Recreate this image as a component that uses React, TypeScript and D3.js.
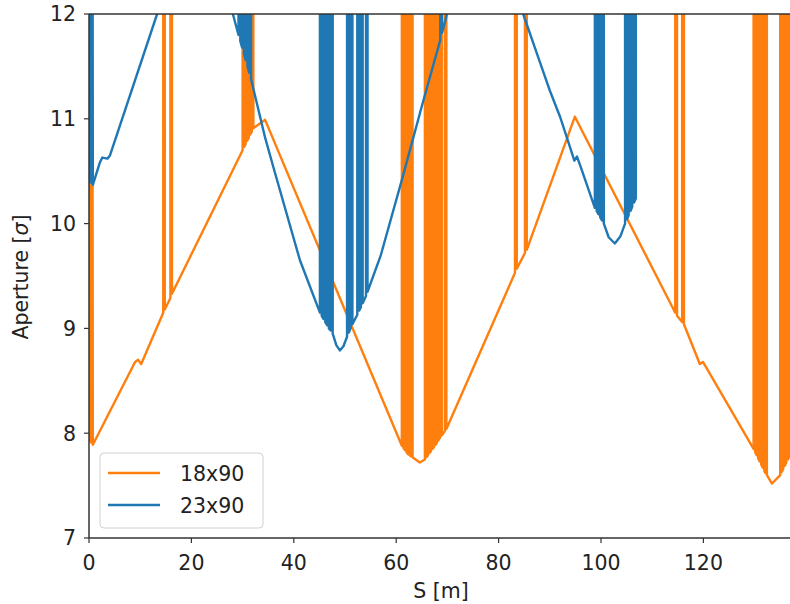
import React from 'react';
import * as d3 from 'd3';

type P = [number, number];

const xTicks = [0, 20, 40, 60, 80, 100, 120];
const yTicks = [7, 8, 9, 10, 11, 12];
const seriesNames = ['18x90', '23x90'];
const seriesColors = ['#ff7f0e', '#1f77b4'];

// 18x90 aperture (sigma) vs S (m); values of 15 are off-chart (above 12)
const orange18x90: P[] = [
  [0, 15], [0.15, 7.93], [0.3, 15], [0.45, 7.91], [0.6, 15], [0.75, 7.89],
  [9.0, 8.68], [9.6, 8.7], [10.2, 8.66], [14.5, 9.15],
  [14.5, 15], [14.8, 15], [14.8, 9.18], [15.9, 9.29], [15.9, 15], [16.2, 15], [16.2, 9.33],
  [30.0, 10.7], [30.0, 15], [30.3, 15], [30.3, 10.73], [30.6, 10.76], [30.6, 15], [30.9, 15], [30.9, 10.79],
  [31.2, 10.82], [31.2, 15], [31.5, 15], [31.5, 10.85], [31.8, 10.88], [31.8, 15], [32.1, 15], [32.1, 10.91],
  [34.4, 10.99],
  [61.1, 7.88], [61.1, 15], [61.4, 15], [61.4, 7.86], [61.7, 7.84], [61.7, 15], [62.0, 15], [62.0, 7.82],
  [62.3, 7.8], [62.3, 15], [62.6, 15], [62.6, 7.79], [62.9, 7.78], [62.9, 15], [63.2, 15], [63.2, 7.77],
  [64.6, 7.72],
  [65.6, 7.75], [65.6, 15], [65.9, 15], [65.9, 7.77], [66.2, 7.79], [66.2, 15], [66.5, 15], [66.5, 7.81],
  [66.8, 7.83], [66.8, 15], [67.1, 15], [67.1, 7.85], [67.4, 7.87], [67.4, 15], [67.7, 15], [67.7, 7.89],
  [67.95, 7.91], [67.95, 15], [68.2, 15], [68.2, 7.93],
  [68.6, 7.96], [68.6, 15], [68.9, 15], [68.9, 7.98], [69.5, 8.02], [69.5, 15], [69.8, 15], [69.8, 8.04],
  [83.2, 9.53], [83.2, 15], [83.55, 15], [83.55, 9.57], [85.15, 9.72], [85.15, 15], [85.5, 15], [85.5, 9.75],
  [94.9, 11.02],
  [114.5, 9.15], [114.5, 15], [114.85, 15], [114.85, 9.12], [115.85, 9.06], [115.85, 15], [116.2, 15], [116.2, 9.04],
  [119.3, 8.66], [119.9, 8.68], [120.4, 8.64],
  [129.8, 7.85], [129.8, 15], [130.1, 15], [130.1, 7.82], [130.4, 7.79], [130.4, 15], [130.7, 15], [130.7, 7.76],
  [131.0, 7.73], [131.0, 15], [131.3, 15], [131.3, 7.7], [131.6, 7.67], [131.6, 15], [131.9, 15], [131.9, 7.64],
  [132.1, 7.62], [132.1, 15], [132.4, 15], [132.4, 7.6],
  [133.4, 7.52],
  [135.0, 7.6], [135.0, 15], [135.3, 15], [135.3, 7.63], [135.6, 7.66], [135.6, 15], [135.9, 15], [135.9, 7.69],
  [136.2, 7.72], [136.2, 15], [136.5, 15], [136.5, 7.75], [136.8, 7.78], [136.8, 15], [137.1, 15], [137.1, 7.81],
  [137.4, 7.84], [137.4, 15], [137.7, 15], [137.7, 7.87],
];

// 23x90 aperture (sigma) vs S (m)
const blue23x90: P[] = [
  [0, 15], [0.15, 10.4], [0.3, 15], [0.45, 10.39], [0.6, 15], [0.75, 10.37],
  [2.1, 10.58], [2.6, 10.63], [3.6, 10.62], [4.1, 10.65], [13.3, 12.0], [21, 13.2], [28.1, 12.0],
  [29.2, 11.8], [29.2, 15], [29.55, 15], [29.55, 11.74], [29.9, 11.68], [29.9, 15], [30.25, 15], [30.25, 11.62],
  [30.6, 11.56], [30.6, 15], [30.95, 15], [30.95, 11.5], [31.3, 11.44], [31.3, 15], [31.65, 15], [31.65, 11.38],
  [34.4, 10.82], [36, 10.54], [41.2, 9.65],
  [45.1, 9.15], [45.1, 15], [45.45, 15], [45.45, 9.12], [45.8, 9.09], [45.8, 15], [46.15, 15], [46.15, 9.06],
  [46.5, 9.03], [46.5, 15], [46.85, 15], [46.85, 9.0], [47.2, 8.98], [47.2, 15], [47.6, 15], [47.6, 8.95],
  [48.3, 8.84], [49.0, 8.79], [49.7, 8.83],
  [50.4, 8.92], [50.4, 15], [50.75, 15], [50.75, 8.96], [51.1, 9.0], [51.1, 15], [51.45, 15], [51.45, 9.04],
  [52.4, 9.13], [52.4, 15], [52.75, 15], [52.75, 9.17], [53.1, 9.2], [53.1, 15], [53.45, 15], [53.45, 9.24],
  [54.1, 9.31], [54.1, 15], [54.4, 15], [54.4, 9.35],
  [57, 9.7], [61.3, 10.45], [65, 11.12], [68.6, 11.75], [68.6, 15], [68.95, 15], [68.95, 11.82],
  [69.5, 11.92], [70.0, 12.02], [77, 13.2], [84.8, 12.0],
  [88, 11.55], [90, 11.27], [92, 11.02], [94.8, 10.6], [95.3, 10.64], [95.9, 10.56],
  [98.8, 10.15], [98.8, 15], [99.15, 15], [99.15, 10.12], [99.5, 10.09], [99.5, 15], [99.85, 15], [99.85, 10.06],
  [100.2, 10.03], [100.2, 15], [100.55, 15], [100.55, 10.0],
  [101.5, 9.87], [102.7, 9.81], [103.8, 9.88],
  [104.7, 10.0], [104.7, 15], [105.05, 15], [105.05, 10.04], [105.4, 10.08], [105.4, 15], [105.75, 15], [105.75, 10.12],
  [106.1, 10.16], [106.1, 15], [106.45, 15], [106.45, 10.2], [106.8, 10.24], [106.8, 15],
];

const seriesData = [orange18x90, blue23x90];

export default function App() {
  const W = 790, H = 604;
  const left = 89, right = 793, top = 14, bottom = 538;
  const x = d3.scaleLinear().domain([0, 137.5]).range([left, right]);
  const y = d3.scaleLinear().domain([7, 12]).range([bottom, top]);
  const line = d3.line<P>().x(d => x(d[0])).y(d => y(d[1]));
  const font = "'DejaVu Sans', sans-serif";
  const fs = 20.5;
  const axisColor = '#333';

  return (
    <svg width={W} height={H} style={{ position: 'fixed', left: 0, top: 0, background: '#fff' }}
      fontFamily={font}>
      <defs>
        <clipPath id="plotclip">
          <rect x={left} y={top} width={right - left} height={bottom - top} />
        </clipPath>
      </defs>
      <rect x={0} y={0} width={W} height={H} fill="#fff" />
      <g clipPath="url(#plotclip)">
        {seriesData.map((d, i) => (
          <path key={i} d={line(d) || ''} fill="none" stroke={seriesColors[i]}
            strokeWidth={2.4} strokeLinejoin="round" />
        ))}
      </g>
      {/* spines */}
      <line x1={left} x2={left} y1={top} y2={bottom} stroke={axisColor} strokeWidth={1.5} />
      <line x1={left} x2={right} y1={bottom} y2={bottom} stroke={axisColor} strokeWidth={1.5} />
      <line x1={left} x2={right} y1={top} y2={top} stroke={axisColor} strokeWidth={1.5} />
      {/* x ticks */}
      {xTicks.map(t => (
        <g key={'x' + t}>
          <line x1={x(t)} x2={x(t)} y1={bottom} y2={bottom + 5} stroke={axisColor} strokeWidth={1.2} />
          <text x={x(t)} y={570} textAnchor="middle" fontSize={fs} fill="#222">{t}</text>
        </g>
      ))}
      {/* y ticks */}
      {yTicks.map(t => (
        <g key={'y' + t}>
          <line x1={left - 5} x2={left} y1={y(t)} y2={y(t)} stroke={axisColor} strokeWidth={1.2} />
          <text x={76} y={y(t)} dy="0.36em" textAnchor="end" fontSize={fs} fill="#222">{t}</text>
        </g>
      ))}
      <text x={441} y={598} textAnchor="middle" fontSize={fs} fill="#222">S [m]</text>
      <text transform="translate(28,277) rotate(-90)" textAnchor="middle" fontSize={fs} fill="#222">
        Aperture [<tspan fontStyle="italic">σ</tspan>]
      </text>
      {/* legend */}
      <g>
        <rect x={100} y={453} width={163} height={75} rx={4} fill="#fff" fillOpacity={0.8}
          stroke="#d0d0d0" strokeWidth={1} />
        {seriesNames.map((n, i) => (
          <g key={n}>
            <line x1={108} x2={160} y1={473 + i * 32} y2={473 + i * 32} stroke={seriesColors[i]} strokeWidth={2.4} />
            <text x={180} y={481 + i * 32} fontSize={fs} fill="#222">{n}</text>
          </g>
        ))}
      </g>
    </svg>
  );
}
